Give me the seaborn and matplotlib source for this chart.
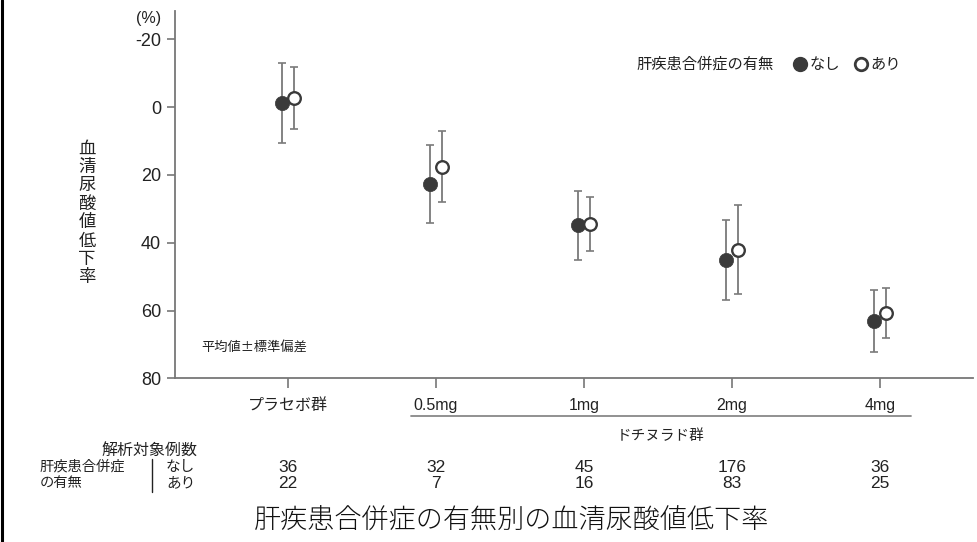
import matplotlib
matplotlib.use("Agg")
import matplotlib.pyplot as plt
import seaborn as sns
import pandas as pd
import numpy as np
from matplotlib.lines import Line2D

# ---- data ----
groups = ["プラセボ群", "0.5mg", "1mg", "2mg", "4mg"]
mean_none = [-1.2, 22.7, 34.9, 45.1, 63.0]
sd_none = [11.8, 11.6, 10.2, 11.7, 9.2]
mean_with = [-2.8, 17.5, 34.5, 42.0, 60.7]
sd_with = [9.1, 10.4, 8.0, 13.0, 7.3]
n_none = [36, 32, 45, 176, 36]
n_with = [22, 7, 16, 83, 25]
yticks = [-20, 0, 20, 40, 60, 80]

sns.set_theme(style="white")
CJK = ["Noto Sans CJK JP", "DejaVu Sans"]
LAT = ["Liberation Sans", "Noto Sans CJK JP"]
NAR = ["Liberation Sans Narrow", "Liberation Sans", "Noto Sans CJK JP"]
plt.rcParams["font.family"] = CJK
plt.rcParams["axes.unicode_minus"] = False

W, H = 977, 542
fig = plt.figure(figsize=(W / 100, H / 100), dpi=100)

def fx(x):
    return x / W

def fy(y):
    return 1 - y / H

ax = fig.add_axes([fx(175), fy(378.3), fx(973) - fx(175), fy(11) - fy(378.3)])

df = pd.DataFrame({
    "idx": list(range(len(groups))) * 2,
    "status": ["なし"] * len(groups) + ["あり"] * len(groups),
    "mean": mean_none + mean_with,
    "sd": sd_none + sd_with,
})
off = 0.043
df["xpos"] = df["idx"] + np.where(df["status"] == "なし", -off, off)

dark = "#3a3a3a"
ebc = "#7a7a7a"
for st in ["なし", "あり"]:
    d = df[df["status"] == st]
    ax.errorbar(d["xpos"], d["mean"], yerr=d["sd"], fmt="none", ecolor=ebc,
                elinewidth=1.3, capsize=2.6, capthick=1.2, zorder=2)

dn = df[df["status"] == "なし"]
dw = df[df["status"] == "あり"]
sns.scatterplot(data=dn, x="xpos", y="mean", ax=ax, color=dark, s=105,
                edgecolor=dark, linewidth=0.5, zorder=3, legend=False)
sns.scatterplot(data=dw, x="xpos", y="mean", ax=ax, color="white", s=82,
                edgecolor=dark, linewidth=1.7, zorder=4, legend=False)

ax.set_xlim(-0.763, 4.628)
ax.set_ylim(80, -28.4)
ax.set_yticks(yticks)
ax.set_yticklabels([str(v) for v in yticks], fontfamily=LAT, fontsize=13, color="#222222")
ax.set_xticks(range(len(groups)))
ax.set_xticklabels(groups, fontfamily=NAR, fontsize=11.5, color="#222222")
ax.set_xlabel("")
ax.set_ylabel("")
for s in ["top", "right"]:
    ax.spines[s].set_visible(False)
for s in ["left", "bottom"]:
    ax.spines[s].set_color("#777777")
    ax.spines[s].set_linewidth(1.3)
ax.tick_params(axis="y", direction="out", length=6, width=1.2, color="#777777", pad=4, left=True)
ax.tick_params(axis="x", direction="out", length=7.2, width=1.2, color="#777777", pad=7, bottom=True)

# (%) unit
fig.text(fx(149), fy(19), "(%)", fontfamily=LAT, fontsize=11.5, ha="center", va="center", color="#222222")

# vertical y label
ylab = "血清尿酸値低下率"
fig.text(fx(87), fy(213), "\n".join(ylab), fontsize=12.5, ha="center", va="center",
         linespacing=1.03, color="#222222")

# SD note
fig.text(fx(201), fy(348), "平均値±標準偏差", fontsize=9.5, ha="left", va="center", color="#222222")

# legend
fig.text(fx(636), fy(64), "肝疾患合併症の有無", fontsize=11, ha="left", va="center", color="#222222")
fig.add_artist(Line2D([fx(800)], [fy(64)], marker="o", markersize=10, color=dark,
                      markeredgecolor=dark, linestyle="none", transform=fig.transFigure))
fig.text(fx(810), fy(64), "なし", fontsize=11, ha="left", va="center", color="#222222")
fig.add_artist(Line2D([fx(860.5)], [fy(64)], marker="o", markersize=9, markerfacecolor="white",
                      markeredgecolor=dark, markeredgewidth=2, linestyle="none",
                      transform=fig.transFigure))
fig.text(fx(870), fy(64), "あり", fontsize=11, ha="left", va="center", color="#222222")

# drug group bracket line
fig.add_artist(Line2D([fx(411), fx(911)], [fy(416), fy(416)], color="#888888", lw=1.3,
                      transform=fig.transFigure))
fig.text(fx(661), fy(436), "ドチヌラド群", fontsize=10.5, ha="center", va="center", color="#222222")

# table
fig.text(fx(197), fy(451), "解析対象例数", fontsize=11.5, ha="right", va="center", color="#222222")
fig.text(fx(40), fy(467), "肝疾患合併症", fontsize=10.3, ha="left", va="center", color="#222222")
fig.text(fx(40), fy(483), "の有無", fontsize=10.3, ha="left", va="center", color="#222222")
fig.add_artist(Line2D([fx(152), fx(152)], [fy(459), fy(492)], color="#222222", lw=1.0,
                      transform=fig.transFigure))
fig.text(fx(166), fy(467), "なし", fontsize=10.5, ha="left", va="center", color="#222222")
fig.text(fx(166), fy(483), "あり", fontsize=10.5, ha="left", va="center", color="#222222")
for i in range(len(groups)):
    xd = ax.transData.transform((i, 0))[0]
    xf = xd / fig.bbox.width
    fig.text(xf, fy(467), str(n_none[i]), fontfamily=NAR, fontsize=12.5, ha="center", va="center", color="#222222")
    fig.text(xf, fy(483), str(n_with[i]), fontfamily=NAR, fontsize=12.5, ha="center", va="center", color="#222222")

# title
fig.text(fx(512), fy(521), "肝疾患合併症の有無別の血清尿酸値低下率", fontsize=19.5,
         ha="center", va="center", color="#111111", fontweight="light")

# left border
fig.add_artist(Line2D([fx(2), fx(2)], [0, 1], color="black", lw=2.2, transform=fig.transFigure))

fig.savefig("out.png", dpi=100, facecolor="white")
